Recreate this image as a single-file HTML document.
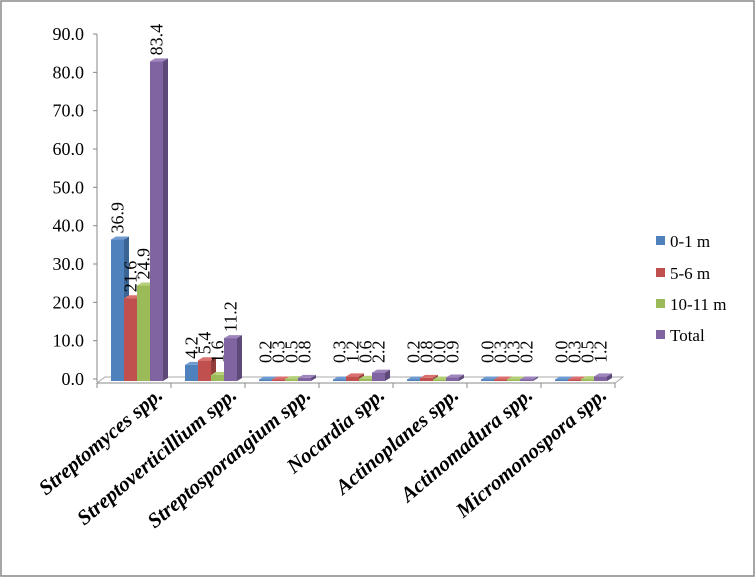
<!DOCTYPE html>
<html><head><meta charset="utf-8"><style>
body{margin:0;background:#fff}
svg{display:block;font-family:"Liberation Serif",serif}
</style></head><body>
<svg id="s" width="756" height="578" xmlns="http://www.w3.org/2000/svg">
<rect x="1" y="1" width="753" height="575" fill="#fff" stroke="#888" stroke-width="1.5"/>
</svg>
<script>
const s=document.getElementById('s');let h='';
const y0=379,k=3.833,x0=97,cw=74;
h+=`<line x1="${x0}" y1="34" x2="${x0}" y2="382" stroke="#888"/>`;
for(let v=0;v<=90;v+=10){const y=y0-v*k;h+=`<line x1="${x0-4}" y1="${y}" x2="${x0}" y2="${y}" stroke="#888"/><text x="84" y="${y+6}" font-size="18" text-anchor="end">${v.toFixed(1)}</text>`;}
h+=`<polygon points="${x0},${y0+4} ${x0+518},${y0+4} ${x0+526},${y0-2} ${x0+8},${y0-2}" fill="#fff" stroke="#aaa"/>`;
h+=`<line x1="${x0}" y1="${y0+4}" x2="${x0+518}" y2="${y0+4}" stroke="#888"/>`;
for(let i=0;i<=7;i++){const x=x0+i*cw;h+=`<line x1="${x}" y1="${y0+4}" x2="${x}" y2="${y0+9}" stroke="#888"/>`;}
const cols=[['#4f81bd','#3a6494','#6f9bd1'],['#c0504d','#933d3b','#d9726f'],['#9bbb59','#758f42','#b4d07a'],['#8064a2','#5e4a79','#9e86bd']];
const data=[[36.9,21.6,24.9,83.4],[4.2,5.4,1.6,11.2],[0.2,0.3,0.5,0.8],[0.3,1.2,0.6,2.2],[0.2,0.8,0.0,0.9],[0.0,0.3,0.3,0.2],[0.0,0.3,0.5,1.2]];
const names=['Streptomyces spp.','Streptoverticillium spp.','Streptosporangium spp.','Nocardia spp.','Actinoplanes spp.','Actinomadura spp.','Micromonospora spp.'];
const bw=13,d=5;
data.forEach((g,i)=>{g.forEach((v,j)=>{const x=x0+i*cw+14+j*bw;const ht=Math.max(v*k,1.5);const yt=y0+2-ht;const c=cols[j];
h+=`<rect x="${x}" y="${yt}" width="${bw}" height="${ht}" fill="${c[0]}"/>`;
h+=`<polygon points="${x+bw},${yt} ${x+bw+d},${yt-3} ${x+bw+d},${y0-1} ${x+bw},${y0+2}" fill="${c[1]}"/>`;
h+=`<polygon points="${x},${yt} ${x+d},${yt-3} ${x+bw+d},${yt-3} ${x+bw},${yt}" fill="${c[2]}"/>`;
const ty=Math.min(yt-6,y0-16);const tx=x+bw/2+6;
h+=`<text transform="translate(${tx},${ty}) rotate(-90)" font-size="18">${v.toFixed(1)}</text>`;});
const cx=x0+i*cw+cw/2+30;
h+=`<text transform="translate(${cx},${y0+18}) rotate(-40)" font-size="21" font-weight="bold" font-style="italic" text-anchor="end">${names[i]}</text>`;});
const ln=['0-1 m','5-6 m','10-11 m','Total'],ly=[241,273,304,335];
ln.forEach((t,j)=>{h+=`<rect x="656" y="${ly[j]-5}" width="9" height="9" fill="${cols[j][0]}"/><text x="670" y="${ly[j]+6}" font-size="17">${t}</text>`;});
s.innerHTML+=h;
</script>
</body></html>
